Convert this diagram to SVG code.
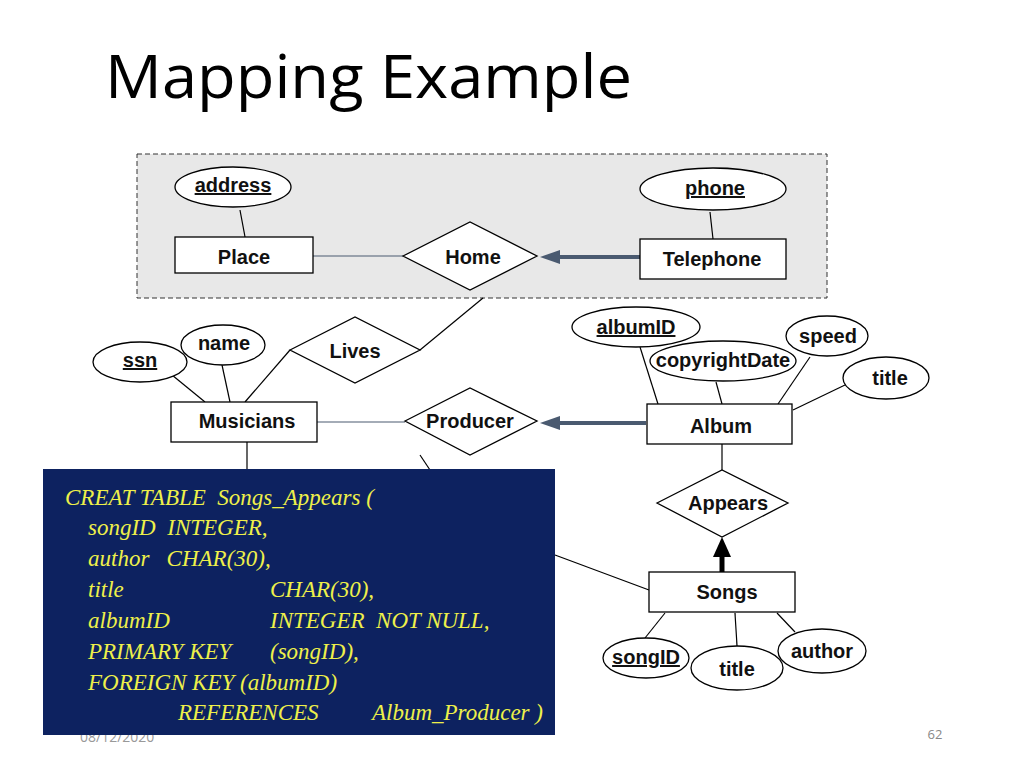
<svg xmlns="http://www.w3.org/2000/svg" width="1024" height="768" viewBox="0 0 1024 768">
<style>
.s{fill:#fff;stroke:#000;stroke-width:1.3}
.t{font-family:"Liberation Sans",Arial,sans-serif;font-weight:bold;font-size:20px;fill:#111;text-anchor:middle}
.l{stroke:#000;stroke-width:1.2;fill:none}
.c{font-family:"Liberation Serif",serif;font-style:italic;font-size:23px;fill:#eef04a;white-space:pre}
</style>
<rect width="1024" height="768" fill="#fff"/>
<text x="105" y="98" font-family="'Open Sans','Noto Sans',sans-serif" font-size="60" fill="#000" textLength="527" lengthAdjust="spacingAndGlyphs">Mapping Example</text>
<rect x="137" y="154" width="690" height="144" fill="#e8e8e8" stroke="#333" stroke-dasharray="5,3"/>
<g id="connectors">
<line class="l" x1="240" y1="210" x2="245" y2="237"/>
<line class="l" x1="710" y1="212" x2="713" y2="239"/>
<line x1="313" y1="256" x2="403" y2="256" stroke="#4a5a70" stroke-width="1.2"/>
<line x1="640" y1="257" x2="556" y2="257" stroke="#4a5a70" stroke-width="4"/>
<path d="M540,257L560,250L560,264z" fill="#4a5a70"/>
<line class="l" x1="420" y1="350" x2="483" y2="298"/>
<line class="l" x1="290" y1="350" x2="245" y2="402"/>
<line class="l" x1="172" y1="375" x2="205" y2="402"/>
<line class="l" x1="222" y1="365" x2="230" y2="402"/>
<line x1="317" y1="422" x2="405" y2="422" stroke="#4a5a70" stroke-width="1.2"/>
<line x1="646" y1="423" x2="556" y2="423" stroke="#4a5a70" stroke-width="4"/>
<path d="M540,423L560,416L560,430z" fill="#4a5a70"/>
<line class="l" x1="640" y1="347" x2="658" y2="404"/>
<line class="l" x1="716" y1="382" x2="722" y2="404"/>
<line class="l" x1="810" y1="357" x2="778" y2="404"/>
<line class="l" x1="845" y1="385" x2="793" y2="410"/>
<line class="l" x1="722" y1="444" x2="722" y2="470"/>
<line x1="722" y1="572" x2="722" y2="555" stroke="#000" stroke-width="5"/>
<path d="M722,537L713,557L731,557z" fill="#000"/>
<line class="l" x1="665" y1="613" x2="645" y2="638"/>
<line class="l" x1="735" y1="613" x2="737" y2="646"/>
<line class="l" x1="777" y1="613" x2="795" y2="632"/>
<line class="l" x1="649" y1="590" x2="555" y2="555"/>
<line class="l" x1="247" y1="442" x2="247" y2="470"/>
<line class="l" x1="420" y1="455" x2="430" y2="470"/>
</g>
<g id="address"><ellipse class="s" cx="233" cy="187" rx="58" ry="20"/><text class="t" x="233" y="192" text-decoration="underline">address</text></g>
<g id="place"><rect class="s" x="175" y="237" width="138" height="36"/><text class="t" x="244" y="264">Place</text></g>
<g id="home"><polygon class="s" points="403,256 470,222 537,256 470,290"/><text class="t" x="473" y="264">Home</text></g>
<g id="telephone"><rect class="s" x="640" y="239" width="146" height="40"/><text class="t" x="712" y="266">Telephone</text></g>
<g id="phone"><ellipse class="s" cx="713" cy="189" rx="73" ry="21"/><text class="t" x="715" y="195" text-decoration="underline">phone</text></g>
<g id="lives"><polygon class="s" points="290,350 355,317 420,350 355,383"/><text class="t" x="355" y="358">Lives</text></g>
<g id="ssn"><ellipse class="s" cx="140" cy="362" rx="47" ry="20"/><text class="t" x="140" y="367" text-decoration="underline">ssn</text></g>
<g id="name"><ellipse class="s" cx="223" cy="345" rx="42" ry="20"/><text class="t" x="224" y="350">name</text></g>
<g id="musicians"><rect class="s" x="171" y="402" width="146" height="40"/><text class="t" x="247" y="428">Musicians</text></g>
<g id="producer"><polygon class="s" points="405,421 470,388 537,421 470,455"/><text class="t" x="470" y="428">Producer</text></g>
<g id="album"><rect class="s" x="647" y="404" width="145" height="40"/><text class="t" x="721" y="433">Album</text></g>
<g id="albumID"><ellipse class="s" cx="636" cy="327" rx="64" ry="20"/><text class="t" x="636" y="334" text-decoration="underline">albumID</text></g>
<g id="copyrightDate"><ellipse class="s" cx="723" cy="361" rx="73" ry="20"/><text class="t" x="723" y="367" font-size="17">copyrightDate</text></g>
<g id="speed"><ellipse class="s" cx="827" cy="336" rx="41" ry="20"/><text class="t" x="828" y="343">speed</text></g>
<g id="title1"><ellipse class="s" cx="886" cy="378" rx="43" ry="21"/><text class="t" x="890" y="385">title</text></g>
<g id="appears"><polygon class="s" points="657,503 722,470 788,503 722,537"/><text class="t" x="728" y="510">Appears</text></g>
<g id="songs"><rect class="s" x="649" y="572" width="146" height="40"/><text class="t" x="727" y="599">Songs</text></g>
<g id="songID"><ellipse class="s" cx="646" cy="658" rx="43" ry="20"/><text class="t" x="646" y="664" text-decoration="underline">songID</text></g>
<g id="title2"><ellipse class="s" cx="737" cy="668" rx="46" ry="22"/><text class="t" x="737" y="676">title</text></g>
<g id="author"><ellipse class="s" cx="822" cy="651" rx="44" ry="22"/><text class="t" x="822" y="658">author</text></g>
<text x="80" y="742" font-family="'Open Sans',sans-serif" font-size="14" fill="#999">08/12/2020</text>
<text x="935" y="739" font-family="'Open Sans',sans-serif" font-size="13" fill="#888" text-anchor="middle">62</text>
<g id="code">
<rect x="43" y="469" width="512" height="266" fill="#0d2260"/>
<text class="c" x="65" y="505">CREAT TABLE  Songs_Appears (</text>
<text class="c" x="88" y="535">songID  INTEGER,</text>
<text class="c" x="88" y="566">author   CHAR(30),</text>
<text class="c" x="88" y="597">title</text><text class="c" x="270" y="597">CHAR(30),</text>
<text class="c" x="88" y="628">albumID</text><text class="c" x="270" y="628">INTEGER  NOT NULL,</text>
<text class="c" x="88" y="659">PRIMARY KEY</text><text class="c" x="270" y="659">(songID),</text>
<text class="c" x="88" y="690">FOREIGN KEY (albumID)</text>
<text class="c" x="178" y="720">REFERENCES</text><text class="c" x="372" y="720">Album_Producer )</text>
</g>
</svg>
